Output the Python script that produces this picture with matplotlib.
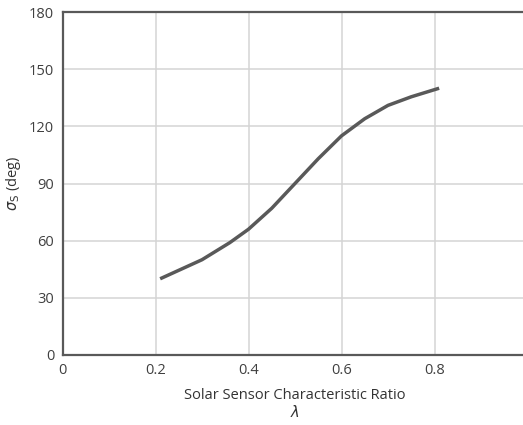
import matplotlib
matplotlib.use("Agg")
import matplotlib.pyplot as plt

lam = [0.21, 0.30, 0.36, 0.40, 0.45, 0.50, 0.55, 0.60, 0.65, 0.70, 0.75, 0.81]
sigma = [40, 50, 59, 66, 77, 90, 103, 115, 124, 131, 135.5, 140]
xticks = [0, 0.2, 0.4, 0.6, 0.8, 1]
xtick_labels = ["0", "0.2", "0.4", "0.6", "0.8", "1"]
yticks = [0, 30, 60, 90, 120, 150, 180]

plt.rcParams['font.family'] = ['Open Sans', 'DejaVu Sans']
plt.rcParams['mathtext.fontset'] = 'dejavusans'

fig = plt.figure(figsize=(5.23, 4.25), dpi=100)
ax = fig.add_axes([62.5/523, 1 - 355/425, 465/523, 343/425])
ax.plot(lam, sigma, color='#595959', lw=2.5, solid_capstyle='butt', zorder=3)
ax.set_xlim(0, 1)
ax.set_ylim(0, 180)
ax.set_xticks(xticks)
ax.set_xticklabels(xtick_labels)
ax.set_yticks(yticks)
ax.grid(True, color='#d4d4d4', lw=1.1)
ax.tick_params(length=0, labelsize=10.5, labelcolor='#404040', pad=6)
for s in ['left', 'bottom', 'top']:
    ax.spines[s].set_color('#595959')
    ax.spines[s].set_linewidth(1.6)
ax.spines['right'].set_visible(False)
ax.set_xlabel("Solar Sensor Characteristic Ratio\n$\\lambda$", fontsize=10.5, color='#333333', labelpad=7)
ax.set_ylabel("$\\sigma_{\\mathrm{S}}$ (deg)", fontsize=10.5, color='#333333', labelpad=4)
fig.savefig("out.png", dpi=100)
